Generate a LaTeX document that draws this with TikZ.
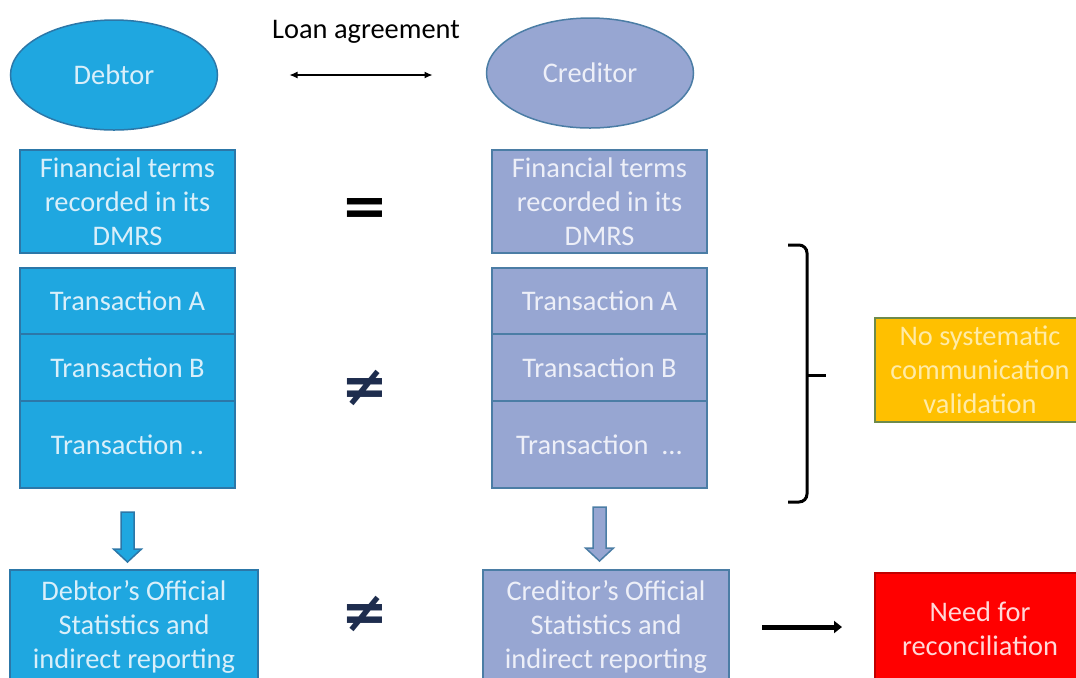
\documentclass[tikz,border=0pt]{standalone}
\usepackage{fontspec}
\setmainfont{Carlito}
\newfontfamily\symfont{DejaVu Sans}
\usepackage{xcolor}
\usetikzlibrary{positioning}
\usetikzlibrary{shapes.geometric, arrows.meta}

\definecolor{debtfill}{HTML}{1FA7E0}
\definecolor{debtline}{HTML}{2C77A8}
\definecolor{debttext}{HTML}{D9EFFA}
\definecolor{credfill}{HTML}{97A6D2}
\definecolor{credline}{HTML}{4B7DA5}
\definecolor{credtext}{HTML}{EDEFF8}
\definecolor{warnfill}{HTML}{FFC000}
\definecolor{warnline}{HTML}{6E8B4B}
\definecolor{warntext}{HTML}{FFEBA6}
\definecolor{needfill}{HTML}{FF0000}
\definecolor{needline}{HTML}{C00000}
\definecolor{needtext}{HTML}{FFD8D8}
\definecolor{neqcol}{HTML}{1E2D4E}

\tikzset{
  boxtext/.style={font=\fontsize{14.2pt}{17pt}\selectfont, align=center,
    inner sep=0pt, outer sep=0pt, line width=0.75pt},
  debt/.style={boxtext, fill=debtfill, draw=debtline, text=debttext},
  cred/.style={boxtext, fill=credfill, draw=credline, text=credtext},
  party/.style={ellipse, minimum width=103.5pt, minimum height=55pt},
  termbox/.style={minimum width=107.5pt, minimum height=51.5pt},
  txbox/.style={minimum width=107.5pt, minimum height=33pt},
  statbox/.style={minimum height=57pt},
  relsign/.style={font=\symfont\bfseries\fontsize{28pt}{28pt}\selectfont, inner sep=0pt},
  blockarrow/.style={line width=0.75pt, line join=miter},
}

\begin{document}
\begin{tikzpicture}[x=0.5pt, y=-0.5pt]
  \clip (0,0) rectangle (1076,677);

  % parties
  \node (debtor) [debt, party] at (114,75) {Debtor};
  \node (creditor) [cred, party] at (590,73) {Creditor};
  \node (loan) [boxtext, text=black] at (366,32) {Loan agreement};
  \draw[{Latex[length=4pt,width=3.5pt]}-{Latex[length=4pt,width=3.5pt]}, line width=0.6pt,
    shorten <=36pt, shorten >=27pt] (debtor.east) -- (debtor.east -| creditor.west);

  % financial terms
  \node (dterms) [debt, termbox] at (127.5,201.5) {Financial terms\\recorded in its\\DMRS};
  \node (cterms) [cred, termbox] at (599.5,201.5) {Financial terms\\recorded in its\\DMRS};
  \node (eqterms) [relsign] at (365,212) {=};

  % transactions
  \node (dtxa) [debt, txbox, below=7.5pt of dterms] {Transaction A};
  \node (dtxb) [debt, txbox, below=0pt of dtxa, minimum height=33.5pt] {Transaction B};
  \node (dtxc) [debt, txbox, below=0pt of dtxb, minimum height=43.5pt] {Transaction ..};
  \node (ctxa) [cred, txbox, below=7.5pt of cterms] {Transaction A};
  \node (ctxb) [cred, txbox, below=0pt of ctxa, minimum height=33.5pt] {Transaction B};
  \node (ctxc) [cred, txbox, below=0pt of ctxb, minimum height=43.5pt] {Transaction~ ...};
  \node (neqtx) [relsign, text=neqcol] at (365,388) {≠};

  % block arrows
  \path (dtxc.south) ++(0,24) coordinate (dpush);
  \filldraw[blockarrow, fill=debtfill, draw=debtline] (dpush) ++(-6.5,0) -- ++(13,0) -- ++(0,37)
    -- ++(7.5,0) -- ++(-14,13) -- ++(-14,-13) -- ++(7.5,0) -- cycle;
  \path (ctxc.south) ++(0,19) coordinate (cpush);
  \filldraw[blockarrow, fill=credfill, draw=credline] (cpush) ++(-6.5,0) -- ++(13,0) -- ++(0,41)
    -- ++(7.5,0) -- ++(-14,13) -- ++(-14,-13) -- ++(7.5,0) -- cycle;

  % official statistics
  \node (dstats) [debt, statbox, minimum width=124pt] at (134,627)
    {Debtor’s Official\\Statistics and\\indirect reporting};
  \node (cstats) [cred, statbox, minimum width=123pt] at (606,627)
    {Creditor’s Official\\Statistics and\\indirect reporting};
  \node (neqstats) [relsign, text=neqcol] at (365,614) {≠};

  % bracket
  \coordinate (btop) at (788,245);
  \coordinate (bbot) at (788,502);
  \coordinate (btip) at (826,375);
  \draw[line width=1.5pt, rounded corners=4pt] (btop) -- (807,245) -- (807,502) -- (bbot);
  \draw[line width=1.5pt] (807,375) -- (btip);

  % outcomes
  \node (nosys) [boxtext, fill=warnfill, draw=warnline, text=warntext,
    minimum width=105pt, minimum height=52pt] at (980,370)
    {No systematic\\communication\\validation};
  \node (need) [boxtext, fill=needfill, draw=needline, text=needtext,
    minimum width=105pt, minimum height=55.5pt] at (980,628.5)
    {Need for\\reconciliation};
  \draw[line width=2.5pt, -{Triangle[length=4pt,width=6pt]},
    shorten <=16.5pt, shorten >=16.5pt] (cstats.east) -- (cstats.east -| need.west);

\end{tikzpicture}
\end{document}
